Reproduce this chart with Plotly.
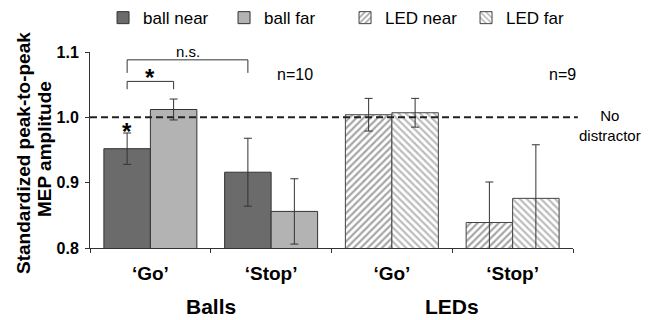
import plotly.graph_objects as go

# ---- data ----
categories = ["Balls 'Go'", "Balls 'Stop'", "LEDs 'Go'", "LEDs 'Stop'"]
tick_labels = ["\u2018Go\u2019", "\u2018Stop\u2019", "\u2018Go\u2019", "\u2018Stop\u2019"]
group_labels = ["Balls", "LEDs"]
ball_cats = categories[:2]
led_cats = categories[2:]

ball_near = [0.952, 0.916]
ball_near_err = [0.024, 0.052]
ball_far = [1.012, 0.856]
ball_far_err = [0.016, 0.050]
led_near = [1.004, 0.839]
led_near_err = [0.025, 0.062]
led_far = [1.007, 0.876]
led_far_err = [0.022, 0.082]

n_labels = ["n=10", "n=9"]
y_title_lines = ["Standardized peak-to-peak", "MEP amplitude"]
baseline = 1.0

FONT = "Liberation Sans, Arial, sans-serif"
BARGAP = 0.23
bw = (1 - BARGAP) / 2  # width of one bar in category units

fig = go.Figure()

def err(vals):
    return dict(type="data", array=vals, visible=True, color="#333333",
                thickness=1, width=4)

fig.add_bar(name="ball near", x=ball_cats, y=ball_near, offsetgroup="near",
            marker=dict(color="#6b6b6b", line=dict(color="#333333", width=1)),
            error_y=err(ball_near_err))
fig.add_bar(name="ball far", x=ball_cats, y=ball_far, offsetgroup="far",
            marker=dict(color="#b3b3b3", line=dict(color="#333333", width=1)),
            error_y=err(ball_far_err))
fig.add_bar(name="LED near", x=led_cats, y=led_near, offsetgroup="near",
            marker=dict(color="white", line=dict(color="#444444", width=1),
                        pattern=dict(shape="/", fgcolor="#4d4d4d", bgcolor="white",
                                     size=5, solidity=0.45)),
            error_y=err(led_near_err))
fig.add_bar(name="LED far", x=led_cats, y=led_far, offsetgroup="far",
            marker=dict(color="white", line=dict(color="#444444", width=1),
                        pattern=dict(shape="\\", fgcolor="#7a7a7a", bgcolor="white",
                                     size=5, solidity=0.45)),
            error_y=err(led_far_err))

# positions (category units) of bar centres
near_go = 0 - bw / 2
far_go = 0 + bw / 2
near_stop = 1 - bw / 2

shapes = []
# baseline (no distractor)
shapes.append(dict(type="line", xref="paper", yref="y", x0=0, x1=1.01,
                   y0=baseline, y1=baseline,
                   line=dict(color="#222222", width=2, dash="7px,4px")))
# significance brackets
def bracket(xa, xb, ytop, yend):
    c = dict(color="#333333", width=1)
    return [dict(type="line", xref="x", yref="y", x0=xa, x1=xa, y0=yend, y1=ytop, line=c),
            dict(type="line", xref="x", yref="y", x0=xa, x1=xb, y0=ytop, y1=ytop, line=c),
            dict(type="line", xref="x", yref="y", x0=xb, x1=xb, y0=ytop, y1=yend, line=c)]
shapes += bracket(near_go, far_go, 1.055, 1.043)
shapes += bracket(near_go, near_stop, 1.088, 1.068)

ann = []
ann.append(dict(text="<b>*</b>", x=near_go, y=ball_near[0] + ball_near_err[0], xref="x", yref="y",
                yanchor="bottom", showarrow=False, font=dict(size=24, color="black"), yshift=-14))
ann.append(dict(text="<b>*</b>", x=(near_go + far_go) / 2, y=1.055, xref="x", yref="y",
                yanchor="bottom", showarrow=False, font=dict(size=24, color="black"), yshift=-12))
ann.append(dict(text="n.s.", x=(near_go + near_stop) / 2, y=1.088, xref="x", yref="y",
                yanchor="bottom", showarrow=False, font=dict(size=15, color="black"), yshift=-2))
ann.append(dict(text=n_labels[0], x=1.2, y=1.066, xref="x", yref="y",
                showarrow=False, font=dict(size=16, color="black")))
ann.append(dict(text=n_labels[1], x=3.41, y=1.066, xref="x", yref="y",
                showarrow=False, font=dict(size=16, color="black")))
ann.append(dict(text="No<br>distractor", x=1.077, y=0.988, xref="paper", yref="y",
                xanchor="center", yanchor="middle",
                showarrow=False, font=dict(size=15, color="black")))
for i, g in enumerate(group_labels):
    ann.append(dict(text="<b>%s</b>" % g, x=0.5 + 2 * i, y=-0.30, xref="x", yref="paper",
                    xanchor="center", yanchor="middle", showarrow=False,
                    font=dict(size=21, color="black")))
# y-axis title, two lines
for line, xp, yp in zip(y_title_lines, [-0.1366, -0.0952], [0.485, 0.505]):
    ann.append(dict(text="<b>%s</b>" % line, x=xp, y=yp, xref="paper", yref="paper",
                    xanchor="center", yanchor="middle", textangle=-90, showarrow=False,
                    font=dict(size=19, color="black")))

fig.update_layout(
    width=658, height=320,
    margin=dict(l=90, r=85, t=52, b=72, autoexpand=False),
    paper_bgcolor="white", plot_bgcolor="white",
    font=dict(family=FONT, color="black"),
    barmode="group", bargap=BARGAP, bargroupgap=0,
    showlegend=True,
    legend=dict(orientation="h", x=0.027, y=1.173, xanchor="left", yanchor="middle",
                font=dict(size=17, color="black"), entrywidth=76, entrywidthmode="pixels",
                itemwidth=30, traceorder="normal", bgcolor="rgba(0,0,0,0)"),
    shapes=shapes, annotations=ann,
    xaxis=dict(type="category", categoryorder="array", categoryarray=categories,
               range=[-0.5, 3.5], tickmode="array", tickvals=categories, ticktext=tick_labels,
               tickson="boundaries", ticks="outside", ticklen=4, tickcolor="#333333",
               showline=True, linecolor="#333333", linewidth=1, showgrid=False,
               tickfont=dict(size=19, family=FONT, color="black", weight="bold"),
               ticklabelstandoff=8),
    yaxis=dict(range=[0.8, 1.1], tickvals=[0.8, 0.9, 1.0, 1.1], tickformat=".1f",
               ticks="outside", ticklen=4, tickcolor="#333333",
               showline=True, linecolor="#333333", linewidth=1, showgrid=False, zeroline=False,
               tickfont=dict(size=16, family=FONT, color="black", weight="bold"),
               ticklabelstandoff=3),
)

fig.write_html("out.html", config={"displayModeBar": False},
               post_script="document.body.style.margin='0';")
